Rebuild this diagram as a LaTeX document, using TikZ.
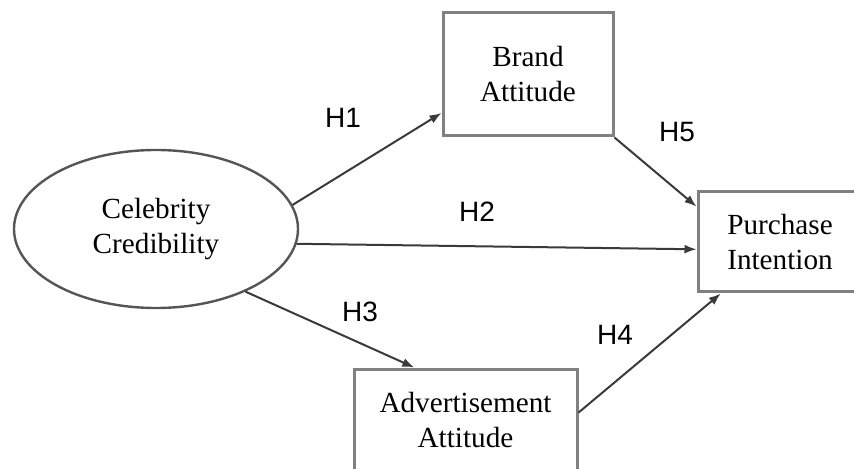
\documentclass[tikz,border=0pt]{standalone}
\usepackage{fontspec}
\setmainfont{Liberation Serif}
\newfontfamily\hypfont{Liberation Sans}
\usetikzlibrary{arrows.meta, shapes.geometric}

\definecolor{boxgray}{RGB}{128,128,128}
\definecolor{rimgray}{RGB}{85,85,85}
\definecolor{pathgray}{RGB}{58,58,58}

\tikzset{
    construct/.style = {draw = boxgray, line width = 1.5pt, align = center, inner sep = 0pt,
                        font = \fontsize{14.6}{17.5}\selectfont},
    latent/.style    = {construct, ellipse, draw = rimgray, line width = 1.2pt},
    effect/.style    = {draw = pathgray, line width = 1pt, -{Latex[length = 6pt, width = 4.5pt]}},
    hyp/.style       = {font = \hypfont\fontsize{14}{14}\selectfont}
}

\begin{document}
\begin{tikzpicture}[x = 0.5pt, y = -0.5pt]
    \clip (0, 0) rectangle (854, 469);

    % constructs
    \node[latent,    minimum width = 142pt, minimum height = 79pt]   (cc) at (156, 229)   {Celebrity\\Credibility};
    \node[construct, minimum width = 85pt,  minimum height = 61.5pt] (ba) at (528, 74.5)  {Brand\\Attitude};
    \node[construct, minimum width = 82pt,  minimum height = 50pt]   (pi) at (780, 242)   {Purchase\\Intention};
    \node[construct, minimum width = 111.5pt, minimum height = 51.5pt] (aa) at (465.5, 420.5) {Advertisement\\Attitude};

    % paths
    \draw[effect] (cc.10)  -- (ba.204);
    \draw[effect] (cc.-6.5) -- (pi.185);
    \draw[effect] (cc.-35) -- (aa.134);
    \draw[effect] (aa.4)   -- (pi.221);
    \draw[effect] (ba.south east) -- (pi.157);

    % hypotheses
    \node[hyp] (h1) at (343, 118) {H1};
    \node[hyp] (h2) at (477, 212) {H2};
    \node[hyp] (h3) at (360, 312) {H3};
    \node[hyp] (h4) at (615, 335) {H4};
    \node[hyp] (h5) at (677, 132) {H5};
\end{tikzpicture}
\end{document}
